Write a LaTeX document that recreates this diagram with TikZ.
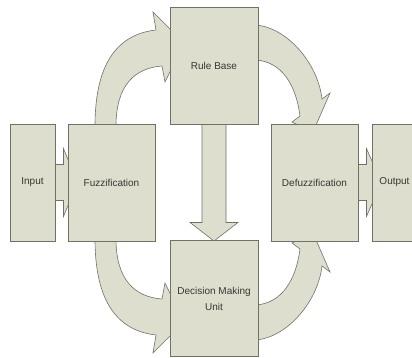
\documentclass[tikz,border=0pt]{standalone}
\usepackage{fontspec}
\setmainfont{Liberation Sans}
\usetikzlibrary{calc}
\usetikzlibrary{backgrounds}

\definecolor{boxfill}{RGB}{221,222,206}
\definecolor{boxline}{RGB}{112,114,102}
\definecolor{boxtext}{RGB}{55,55,50}

\tikzset{
	block/.style={rectangle, draw=boxline, fill=boxfill, line width=0.9pt, inner sep=0pt,
		minimum height=117pt, text=boxtext, font=\fontsize{10}{16}\selectfont, align=center},
	blockarrow/.style={draw=boxline, fill=boxfill, line width=0.6pt, line join=miter}
}

\begin{document}
\begin{tikzpicture}[x=1pt,y=-1pt]
			\useasboundingbox (0,0) rectangle (412,358);
			\clip (0,0) rectangle (412,358);

			\node[block, minimum width=45pt] (input) at (32.5,182.5) {Input};
			\node[block, minimum width=87pt] (fuzz) at (111.5,182.5) {Fuzzification};
			\node[block, minimum width=88pt] (rule) at (214,65.5) {Rule Base};
			\node[block, minimum width=88pt, minimum height=116pt] (dmu) at (214,298.5) {Decision Making\\Unit};
			\node[block, minimum width=87pt] (defuzz) at (314.5,182.5) {Defuzzification};
			\node[block, minimum width=45pt] (output) at (394.5,182.5) {Output};

			\begin{scope}[on background layer]
			%straight arrows
			\draw[blockarrow] ($(rule.south)+(-12,-4)$) -- ($(rule.south)+(-12,98)$) -- ($(rule.south)+(-24,98)$)
				-- ($(dmu.north)+(0,1)$) -- ($(rule.south)+(24,98)$) -- ($(rule.south)+(12,98)$) -- ($(rule.south)+(12,-4)$) -- cycle;
			\draw[blockarrow] ($(input.east)+(-2,-18)$) -- ($(input.east)+(8,-18)$) -- ($(input.east)+(8,-34)$)
				-- ($(fuzz.west)+(10,0)$) -- ($(input.east)+(8,34)$) -- ($(input.east)+(8,18)$) -- ($(input.east)+(-2,18)$) -- cycle;
			\draw[blockarrow] ($(defuzz.east)+(-2,-18)$) -- ($(defuzz.east)+(8,-18)$) -- ($(defuzz.east)+(8,-34)$)
				-- ($(output.west)+(10,0)$) -- ($(defuzz.east)+(8,34)$) -- ($(defuzz.east)+(8,18)$) -- ($(defuzz.east)+(-2,18)$) -- cycle;

			%curved arrows, upper half
			\draw[blockarrow] (95,126) .. controls (95,60) and (120,34) .. (156,30) -- (153,12) -- (184,43) -- (165,82)
				-- (162,66) .. controls (135,68) and (116,85) .. (116,126) -- cycle;
			\draw[blockarrow] (256,25) .. controls (288,28) and (318,64) .. (322,99) -- (330,93) -- (313,132) -- (292,122)
				-- (300,116) .. controls (296,85) and (282,62) .. (256,60) -- cycle;

			%curved arrows, lower half (mirrored)
			\begin{scope}[shift={(0,365)}, yscale=-1]
			\draw[blockarrow] (95,126) .. controls (95,60) and (120,34) .. (156,30) -- (153,12) -- (184,43) -- (165,82)
				-- (162,66) .. controls (135,68) and (116,85) .. (116,126) -- cycle;
			\draw[blockarrow] (256,25) .. controls (288,28) and (318,64) .. (322,99) -- (330,93) -- (313,132) -- (292,122)
				-- (300,116) .. controls (296,85) and (282,62) .. (256,60) -- cycle;
			\end{scope}
			\end{scope}

		\end{tikzpicture}
\end{document}
